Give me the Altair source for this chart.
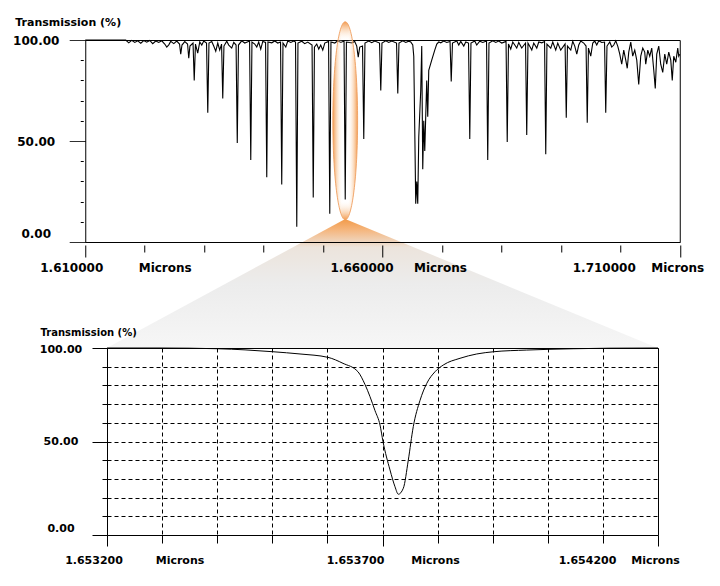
import altair as alt
import pandas as pd

# ---------------- data ----------------
top_wavelength = [
    1.61000, 1.61681, 1.61732, 1.61782, 1.61833, 1.61883, 1.61934, 1.61984, 1.62034, 1.62085,
    1.62135, 1.62186, 1.62236, 1.62287, 1.62337, 1.62371, 1.62405, 1.62438, 1.62489, 1.62539,
    1.62586, 1.62606, 1.62627, 1.62674, 1.62721, 1.62741, 1.62761, 1.62813, 1.62833, 1.62854,
    1.62892, 1.62926, 1.62960, 1.62993, 1.63040, 1.63061, 1.63081, 1.63128, 1.63161, 1.63195,
    1.63229, 1.63262, 1.63293, 1.63313, 1.63333, 1.63380, 1.63414, 1.63464, 1.63498, 1.63537,
    1.63557, 1.63577, 1.63632, 1.63683, 1.63764, 1.63784, 1.63804, 1.63851, 1.63885, 1.63918,
    1.63952, 1.63986, 1.64033, 1.64053, 1.64073, 1.64137, 1.64188, 1.64238, 1.64285, 1.64305,
    1.64326, 1.64373, 1.64406, 1.64457, 1.64507, 1.64537, 1.64558, 1.64578, 1.64642, 1.64692,
    1.64743, 1.64815, 1.64835, 1.64855, 1.64894, 1.64928, 1.64961, 1.64995, 1.65029, 1.65093,
    1.65113, 1.65133, 1.65197, 1.65247, 1.65298, 1.65353, 1.65373, 1.65393, 1.65483, 1.65533,
    1.65567, 1.65592, 1.65617, 1.65664, 1.65685, 1.65705, 1.65769, 1.65819, 1.65870, 1.65950,
    1.65971, 1.65991, 1.66055, 1.66105, 1.66156, 1.66236, 1.66257, 1.66277, 1.66341, 1.66391,
    1.66442, 1.66475, 1.66509, 1.66526, 1.66543, 1.66559, 1.66576, 1.66593, 1.66610, 1.66643,
    1.66660, 1.66677, 1.66694, 1.66711, 1.66744, 1.66761, 1.66778, 1.66828, 1.66879, 1.66913,
    1.66946, 1.66980, 1.67030, 1.67081, 1.67136, 1.67156, 1.67177, 1.67249, 1.67283, 1.67316,
    1.67367, 1.67400, 1.67447, 1.67468, 1.67488, 1.67552, 1.67585, 1.67636, 1.67686, 1.67750,
    1.67770, 1.67791, 1.67855, 1.67905, 1.67955, 1.68006, 1.68078, 1.68098, 1.68119, 1.68157,
    1.68191, 1.68225, 1.68258, 1.68292, 1.68342, 1.68406, 1.68426, 1.68447, 1.68511, 1.68544,
    1.68595, 1.68628, 1.68679, 1.68726, 1.68746, 1.68766, 1.68830, 1.68864, 1.68914, 1.68948,
    1.68998, 1.69071, 1.69091, 1.69111, 1.69167, 1.69200, 1.69234, 1.69268, 1.69301, 1.69335,
    1.69385, 1.69424, 1.69444, 1.69464, 1.69503, 1.69537, 1.69570, 1.69604, 1.69638, 1.69688,
    1.69735, 1.69755, 1.69776, 1.69823, 1.69856, 1.69890, 1.69924, 1.69957, 1.69991, 1.70024,
    1.70058, 1.70092, 1.70117, 1.70142, 1.70176, 1.70209, 1.70243, 1.70277, 1.70310, 1.70344,
    1.70378, 1.70411, 1.70428, 1.70462, 1.70495, 1.70529, 1.70563, 1.70588, 1.70613, 1.70647,
    1.70680, 1.70714, 1.70748, 1.70781, 1.70815, 1.70849, 1.70874, 1.70899, 1.70933, 1.70966,
    1.70983, 1.71000,
]
top_transmission = [
    100.0, 100.0, 98.6, 99.8, 98.8, 99.6, 98.4, 99.7, 98.9, 99.8,
    98.2, 99.5, 98.8, 99.6, 98.0, 96.5, 97.6, 99.3, 98.2, 99.5,
    98.0, 93.0, 97.5, 99.2, 98.0, 91.0, 97.0, 98.5, 80.0, 98.0,
    93.5, 99.0, 97.5, 99.5, 98.5, 64.0, 98.5, 99.3, 97.0, 94.5,
    98.5, 95.0, 98.0, 71.0, 97.0, 99.4, 97.5, 96.0, 98.8, 97.5,
    49.0, 97.5, 99.6, 98.5, 99.5, 40.6, 99.0, 98.0, 96.5, 99.0,
    95.5, 99.3, 98.8, 32.0, 99.0, 98.6, 99.5, 98.5, 99.0, 28.5,
    98.5, 96.5, 99.5, 98.8, 99.5, 99.0, 7.5, 98.5, 99.4, 98.2,
    99.0, 97.5, 22.0, 96.5, 98.0, 95.5, 97.5, 95.0, 98.5, 99.3,
    14.0, 99.0, 98.5, 99.6, 98.8, 99.5, 21.0, 99.0, 98.6, 99.3,
    97.0, 91.5, 96.5, 97.0, 51.0, 98.5, 99.5, 98.7, 99.5, 98.5,
    75.0, 98.5, 99.6, 98.8, 99.5, 98.5, 73.5, 98.5, 99.6, 98.8,
    99.4, 99.0, 97.5, 92.0, 55.0, 19.0, 30.0, 19.0, 52.0, 75.0,
    97.0, 36.0, 60.0, 45.0, 80.0, 62.0, 85.0, 90.0, 95.0, 98.0,
    99.0, 98.6, 99.5, 98.8, 99.3, 79.5, 98.5, 99.5, 97.5, 99.3,
    97.0, 99.0, 98.5, 51.0, 98.5, 99.5, 97.5, 99.4, 98.8, 99.5,
    40.6, 98.5, 99.6, 98.8, 99.5, 98.5, 99.3, 49.5, 98.0, 95.5,
    99.0, 97.5, 96.0, 98.8, 96.0, 98.5, 53.0, 98.5, 95.0, 98.5,
    96.0, 99.0, 98.6, 99.2, 43.5, 98.0, 96.0, 99.0, 95.0, 98.5,
    95.0, 98.0, 61.5, 97.0, 95.0, 99.4, 97.0, 93.0, 97.5, 99.5,
    98.5, 97.0, 59.0, 96.0, 92.0, 98.5, 99.5, 97.5, 99.6, 98.8,
    99.0, 64.0, 97.0, 99.0, 96.5, 97.5, 99.6, 97.0, 93.0, 88.0,
    95.0, 90.0, 86.0, 94.0, 99.0, 92.0, 95.0, 90.0, 78.0, 92.0,
    96.0, 94.0, 88.0, 95.0, 92.0, 96.0, 85.0, 76.0, 93.0, 97.0,
    88.0, 84.0, 93.0, 88.0, 94.0, 90.0, 80.0, 92.0, 89.0, 96.0,
    92.0, 93.0,
]

zoom_wavelength = [
    1.6532000, 1.6532962, 1.6534015, 1.6534505, 1.6535013, 1.6535503, 1.6536011, 1.6536283,
    1.6536555, 1.6536682, 1.6536773, 1.6536864, 1.6536955, 1.6537009, 1.6537136, 1.6537227,
    1.6537287, 1.6537378, 1.6537468, 1.6537559, 1.6537681, 1.6537802, 1.6537953, 1.6538103,
    1.6538407, 1.6538710, 1.6539018, 1.6539617, 1.6540463, 1.6541129, 1.6542000,
]
zoom_transmission = [
    100.0, 100.0, 99.6, 99.0, 98.0, 96.8, 95.0, 91.8,
    87.3, 80.5, 74.0, 66.5, 58.8, 50.0, 34.8, 25.8,
    21.8, 25.0, 40.0, 58.0, 72.0, 81.0, 87.3, 90.9,
    94.5, 96.8, 98.0, 98.9, 99.6, 99.9, 100.0,
]

# axis ticks / labels
top_ticks = [1.61, 1.62, 1.63, 1.64, 1.65, 1.66, 1.67, 1.68, 1.69, 1.70, 1.71]
top_number_ticks = [1.61, 1.66, 1.71]
top_number_labels = ["1.610000", "1.660000", "1.710000"]
top_unit_ticks = [1.62, 1.67, 1.71]
zoom_ticks = [1.6532, 1.6533, 1.6534, 1.6535, 1.6536, 1.6537, 1.6538, 1.6539, 1.6540, 1.6541, 1.6542]
zoom_number_ticks = [1.6532, 1.6537, 1.6542]
zoom_number_labels = ["1.653200", "1.653700", "1.654200"]
zoom_unit_ticks = [1.6533, 1.6538, 1.6542]
unit_label = "Microns"
y_ticks = [0, 10, 20, 30, 40, 50, 60, 70, 80, 90, 100]
y_title = "Transmission (%)"

# highlighted line (ellipse) and the callout wedge towards the zoom panel
highlight_x = [1.65373]
highlight_y = [60]
wedge_x = [1.61362, 1.65373, 1.70630]
wedge_top = [-52.48, 11.4, -52.48]
wedge_base = [-52.48, -52.48, -52.48]

FONT = "DejaVu Sans"

top_df = pd.DataFrame({"wavelength": top_wavelength, "transmission": top_transmission})
zoom_df = pd.DataFrame({"wavelength": zoom_wavelength, "transmission": zoom_transmission})
hl_df = pd.DataFrame({"wavelength": highlight_x, "transmission": highlight_y})
wedge_df = pd.DataFrame({"wavelength": wedge_x, "top": wedge_top, "base": wedge_base})


def is_val(v):
    return f"abs(datum.value - {v!r}) < 1e-9"


def label_expr(vals, texts):
    return " : ".join(f"{is_val(v)} ? '{t}'" for v, t in zip(vals, texts)) + " : ''"


def cond(vals, values, default):
    return {"condition": [{"test": is_val(v), "value": x} for v, x in zip(vals, values)],
            "value": default}


label_style = dict(labelFont=FONT, labelFontWeight="bold", labelColor="black",
                   labelFlush=False, labelOverlap=False)

# ---------------- top panel ----------------
tx_scale = alt.Scale(domain=[1.61, 1.71], nice=False, zero=False)
ty_scale = alt.Scale(domain=[0, 100], nice=False, zero=False)

top_num_axis = alt.Axis(
    orient="bottom", values=top_ticks,
    labelExpr=label_expr(top_number_ticks, top_number_labels),
    labelOffset=cond(top_number_ticks, [-14, -21, -76], 0),
    tickSize=cond(top_number_ticks, [15, 15, 15], 10),
    tickDash=[0, 3, 30, 0], tickColor="black", tickWidth=1,
    domain=True, domainColor="black", domainWidth=1,
    labelPadding=10.5, labelBaseline="middle", labelAlign="center", labelFontSize=12,
    grid=False, title=None, zindex=1, **label_style)

top_unit_axis = alt.Axis(
    orient="bottom", values=top_unit_ticks, labelExpr=f"'{unit_label}'",
    labelOffset=cond(top_unit_ticks, [20, -2, -2.5], 0),
    ticks=False, domain=False, labelPadding=25.5, labelBaseline="middle",
    labelAlign="center", labelFontSize=12, grid=False, title=None, zindex=1, **label_style)

top_y_axis = alt.Axis(
    orient="left", values=y_ticks,
    labelExpr="datum.value % 50 == 0 ? format(datum.value, '.2f') : ''",
    tickSize={"condition": {"test": "datum.value % 50 == 0", "value": 16}, "value": 5},
    tickDash={"condition": {"test": "datum.value % 50 == 0", "value": [1, 0]},
              "value": [0, 2, 10, 0]},
    tickColor="black", tickWidth=1,
    labelAlign="center", labelBaseline="middle", labelPadding=33.5, labelFontSize=12,
    labelOffset={"condition": {"test": "datum.value == 0", "value": -8.5}, "value": 0},
    domain=False, grid=False,
    title=y_title, titleAngle=0, titleAlign="left", titleBaseline="middle",
    titleX=-70.5, titleY=-18, titleFont=FONT, titleFontSize=11, titleFontWeight="bold",
    titleColor="black", zindex=1, **label_style)

wedge_fill = {
    "gradient": "linear", "x1": 0, "y1": 0, "x2": 0, "y2": 1,
    "stops": [
        {"offset": 0.0, "color": "#f29a48"},
        {"offset": 0.08, "color": "#f5b47a"},
        {"offset": 0.22, "color": "#ece4dc"},
        {"offset": 0.5, "color": "#ececec"},
        {"offset": 1.0, "color": "#f6f6f6"},
    ],
}

ORANGE = "rgba(242,150,70,0.95)"
PEACH = "rgba(248,200,155,0.45)"
CLEAR = "rgba(255,255,255,0)"
oval_fill_h = {
    "gradient": "linear", "x1": 0, "y1": 0, "x2": 1, "y2": 0,
    "stops": [
        {"offset": 0.0, "color": ORANGE},
        {"offset": 0.2, "color": PEACH},
        {"offset": 0.4, "color": CLEAR},
        {"offset": 0.6, "color": CLEAR},
        {"offset": 0.8, "color": PEACH},
        {"offset": 1.0, "color": ORANGE},
    ],
}
oval_fill_v = {
    "gradient": "linear", "x1": 0, "y1": 0, "x2": 0, "y2": 1,
    "stops": [
        {"offset": 0.0, "color": ORANGE},
        {"offset": 0.05, "color": PEACH},
        {"offset": 0.1, "color": CLEAR},
        {"offset": 0.9, "color": CLEAR},
        {"offset": 0.95, "color": PEACH},
        {"offset": 1.0, "color": ORANGE},
    ],
}
ELLIPSE = "M0,-1A0.125,1,0,1,1,0,1A0.125,1,0,1,1,0,-1Z"

wedge = alt.Chart(wedge_df).mark_area(fill=wedge_fill, opacity=1).encode(
    x=alt.X("wavelength:Q", scale=tx_scale, axis=None),
    y=alt.Y("top:Q", scale=ty_scale, axis=None),
    y2="base:Q",
)

top_line = alt.Chart(top_df).mark_line(color="black", strokeWidth=1.1).encode(
    x=alt.X("wavelength:Q", scale=tx_scale, axis=top_num_axis),
    y=alt.Y("transmission:Q", scale=ty_scale, axis=top_y_axis),
)

oval_v = alt.Chart(hl_df).mark_point(
    shape=ELLIPSE, size=39204, filled=True, fill=oval_fill_v, opacity=1, strokeWidth=0
).encode(
    x=alt.X("wavelength:Q", scale=tx_scale, axis=None),
    y=alt.Y("transmission:Q", scale=ty_scale, axis=None),
)

oval_h = alt.Chart(hl_df).mark_point(
    shape=ELLIPSE, size=39204, filled=True, fill=oval_fill_h, opacity=1,
    stroke="#f0a060", strokeWidth=1, strokeOpacity=0.9
).encode(
    x=alt.X("wavelength:Q", scale=tx_scale, axis=top_unit_axis),
    y=alt.Y("transmission:Q", scale=ty_scale, axis=None),
)

top = alt.layer(wedge, top_line, oval_v, oval_h).resolve_axis(
    x="independent", y="independent").properties(width=594.5, height=202)

# ---------------- zoom panel ----------------
zx_scale = alt.Scale(domain=[1.6532, 1.6542], nice=False, zero=False)
zy_scale = alt.Scale(domain=[0, 100], nice=False, zero=False)

grid_style = dict(grid=True, gridDash=[4, 3], gridColor="black", gridWidth=1, gridOpacity=1)

zoom_num_axis = alt.Axis(
    orient="bottom", values=zoom_ticks,
    labelExpr=label_expr(zoom_number_ticks, zoom_number_labels),
    labelOffset=cond(zoom_number_ticks, [-13.5, -27.5, -71], 0),
    tickSize=cond(zoom_number_ticks, [11, 11, 11], 8),
    tickColor="black", tickWidth=1, domain=False,
    labelPadding=14, labelBaseline="middle", labelAlign="center", labelFontSize=11,
    title=None, **grid_style, **label_style)

zoom_unit_axis = alt.Axis(
    orient="bottom", values=zoom_unit_ticks, labelExpr=f"'{unit_label}'",
    labelOffset=cond(zoom_unit_ticks, [17.4, -2.6, -3], 0),
    ticks=False, domain=False, labelPadding=25, labelBaseline="middle",
    labelAlign="center", labelFontSize=11, grid=False, title=None, **label_style)

zoom_y_axis = alt.Axis(
    orient="left", values=y_ticks,
    labelExpr="datum.value % 50 == 0 ? format(datum.value, '.2f') : ''",
    tickSize={"condition": {"test": "datum.value % 50 == 0", "value": 15}, "value": 5},
    tickColor="black", tickWidth=1,
    labelAlign="center", labelBaseline="middle", labelPadding=31.5, labelFontSize=11,
    labelOffset={"condition": [{"test": "datum.value == 0", "value": -7},
                               {"test": "datum.value == 100", "value": 1.5}], "value": 0},
    domain=False,
    title=y_title, titleAngle=0, titleAlign="left", titleBaseline="middle",
    titleX=-67, titleY=-16, titleFont=FONT, titleFontSize=10, titleFontWeight="bold",
    titleColor="black", **grid_style, **label_style)

zoom_line = alt.Chart(zoom_df).mark_line(
    color="black", strokeWidth=1, interpolate="monotone"
).encode(
    x=alt.X("wavelength:Q", scale=zx_scale, axis=zoom_num_axis),
    y=alt.Y("transmission:Q", scale=zy_scale, axis=zoom_y_axis),
)

zoom_units = alt.Chart(zoom_df).mark_line(opacity=0).encode(
    x=alt.X("wavelength:Q", scale=zx_scale, axis=zoom_unit_axis),
    y=alt.Y("transmission:Q", scale=zy_scale, axis=None),
)

bottom = alt.layer(zoom_line, zoom_units).resolve_axis(
    x="independent", y="independent").properties(width=551, height=187)

chart = alt.vconcat(top, bottom, spacing=106, bounds="flush", center=True).properties(
    padding={"left": 4, "top": 7, "right": 5, "bottom": 5},
    background="white",
).configure_view(stroke="black", strokeWidth=1)

chart.save("out.html", embed_options={"renderer": "svg", "actions": False})
